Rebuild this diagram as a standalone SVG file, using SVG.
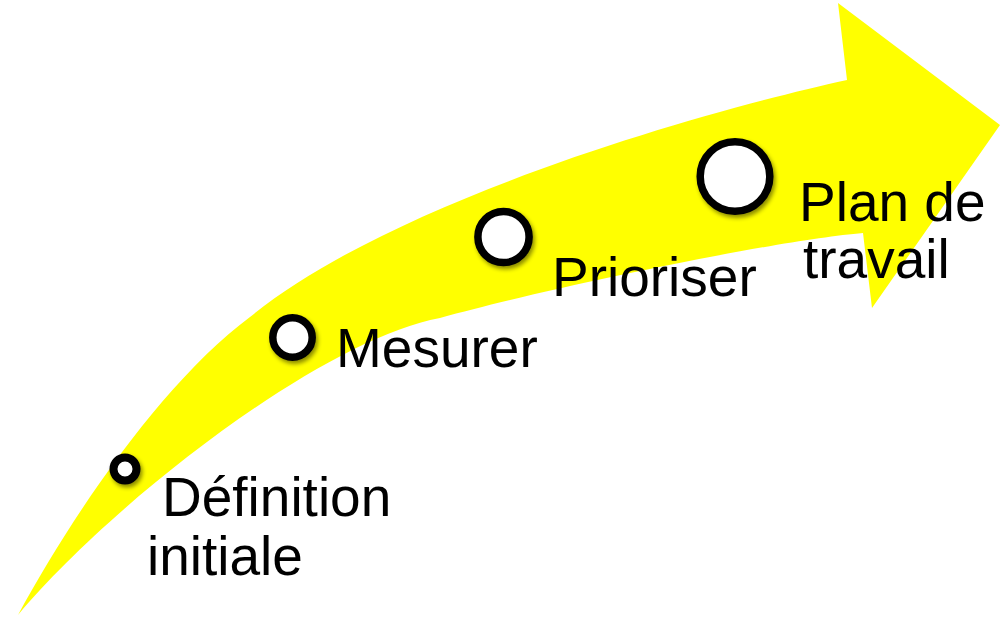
<svg xmlns="http://www.w3.org/2000/svg" width="1005" height="618" viewBox="0 0 1005 618">
<style>
.lbl{font-family:"Liberation Sans",Arial,sans-serif;font-size:55px;fill:#000}
.dot{fill:#fff;stroke:#000;stroke-width:7.5;filter:url(#sh)}
</style>
<defs>
<filter id="sh" x="-50%" y="-50%" width="200%" height="200%">
<feDropShadow dx="2" dy="3" stdDeviation="2" flood-color="#000" flood-opacity="0.45"/>
</filter>
</defs>
<rect width="1005" height="618" fill="#fff"/>
<g id="arrow">
<path d="M18,615 C75,510 165,380 250,317 C390,202 697,113 847,80 L838,3 L1000,125 L872,308 L863,233 C780,240 560,285 440,318 C320,340 110,505 18,615 Z" fill="#ffff00"/>
</g>
<g id="step1">
<circle class="dot" cx="125" cy="469" r="11.5" style="stroke-width:8"/>
<text class="lbl" x="162" y="516">Définition</text>
<text class="lbl" x="147" y="575">initiale</text>
</g>
<g id="step2">
<circle class="dot" cx="292.5" cy="337.5" r="19.7"/>
<text class="lbl" x="336" y="367">Mesurer</text>
</g>
<g id="step3">
<circle class="dot" cx="503.5" cy="237" r="25.6"/>
<text class="lbl" x="552" y="296">Prioriser</text>
</g>
<g id="step4">
<circle class="dot" cx="735" cy="176.5" r="34.8"/>
<text class="lbl" x="799" y="221">Plan de</text>
<text class="lbl" x="803" y="278">travail</text>
</g>
<g id="connectors"/>
</svg>
